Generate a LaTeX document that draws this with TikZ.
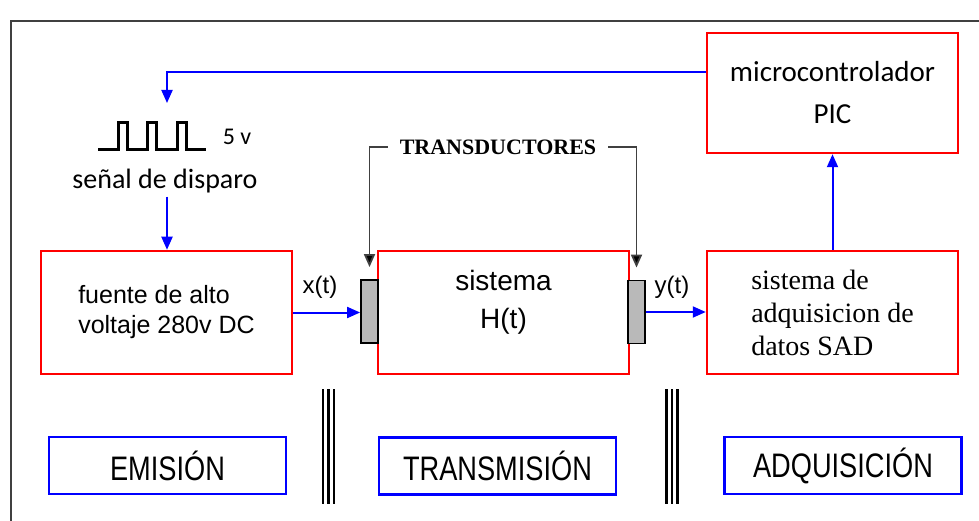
\documentclass[tikz,border=0pt]{standalone}
\usepackage{fontspec}
\usepackage{graphicx}
\setmainfont{Liberation Sans}
\newfontfamily\calibfont{Carlito}
\newfontfamily\serifont{Liberation Serif}
\usetikzlibrary{arrows.meta}

\begin{document}
\begin{tikzpicture}[x=1pt,y=-1pt,
  redbox/.style={draw=red, line width=2.5pt, minimum width=251pt, minimum height=123pt, inner sep=0pt},
  bluebox/.style={draw=blue, line width=2.5pt, minimum width=237pt, minimum height=57pt, inner sep=0pt, font=\fontsize{34}{40}\selectfont},
  tdbox/.style={draw=black, line width=1.8pt, fill=gray!55, minimum width=17pt, minimum height=63pt, inner sep=0pt},
  sig/.style={draw=blue, line width=2pt, -{Triangle[length=13pt,width=11pt]}},
  tdline/.style={draw=black!75, line width=1.8pt, -{Triangle[length=13pt,width=11pt,fill=black]}, shorten >=12pt}]
\useasboundingbox (0,0) rectangle (979,521);
\draw[line width=2.5pt, black!75] (11,521) -- (11,21) -- (979,21);

% bloques principales
\node[redbox, align=left, font=\fontsize{25}{30}\selectfont] (fuente) at (166.5,312.5) {fuente de alto\\voltaje 280v DC};
\node[redbox] (sis) at (503.5,312.5) {};
\node[font=\fontsize{28}{38}\selectfont, align=center] (sistxt) at (503.5,302) {sistema\\H(t)};
\node[redbox, align=left, font=\serifont\fontsize{28}{33}\selectfont] (sad) at (832.5,312.5) {sistema de\\adquisicion de\\datos SAD};
\node[redbox, minimum height=120pt, align=center, font=\calibfont\fontsize{29}{42}\selectfont] (micro) at (832.5,93) {microcontrolador\\PIC};
\node[tdbox] (tdA) at (369.5,311.5) {};
\node[tdbox] (tdB) at (636.5,312) {};

% senal de disparo
\draw[line width=3pt, line join=miter] (98,150) -- (118,150) -- (118,123) -- (127,123) -- (127,150) -- (147,150) -- (147,123) -- (156,123) -- (156,150) -- (177,150) -- (177,123) -- (186,123) -- (186,150) -- (206,150);
\node[font=\calibfont\fontsize{24}{28}\selectfont] (volt) at (237,137) {5 v};
\node[font=\calibfont\fontsize{28}{34}\selectfont] (senal) at (165,181) {señal de disparo};
\coordinate (trig) at (167,103);

\node[font=\serifont\bfseries\fontsize{22}{26}\selectfont, inner xsep=12pt] (trlabel) at (498,147) {TRANSDUCTORES};
\node[font=\fontsize{24}{28}\selectfont] (xlab) at (320,287) {x(t)};
\node[font=\fontsize{24}{28}\selectfont] (ylab) at (672,287) {y(t)};

% etapas
\node[bluebox] (emis) at (167.5,465.5) {\scalebox{0.8}[1]{EMISIÓN}};
\node[bluebox] (trans) at (497.5,466) {\scalebox{0.8}[1]{TRANSMISIÓN}};
\node[bluebox] (adq) at (843,465.5) {\scalebox{0.8}[1]{ADQUISICIÓN}};
\foreach \xc in {328.5,672}{
  \foreach \dx in {-5.5,0,5.5}
    \draw[line width=2.2pt] (\xc+\dx,389) -- (\xc+\dx,504);
}

% conexiones
\draw[sig] (micro.west) ++(0,-21) -| (trig);
\draw[sig] (senal.south -| trig) -- (fuente.north -| trig);
\draw[sig] (fuente.east) -- (fuente.east -| tdA.west);
\draw[sig] (tdB.east) -- (tdB.east -| sad.west);
\draw[sig] (sad) -- (micro);
\draw[tdline] (trlabel.west) -| (tdA.north);
\draw[tdline] (trlabel.east) -| (tdB.north);
\end{tikzpicture}
\end{document}
